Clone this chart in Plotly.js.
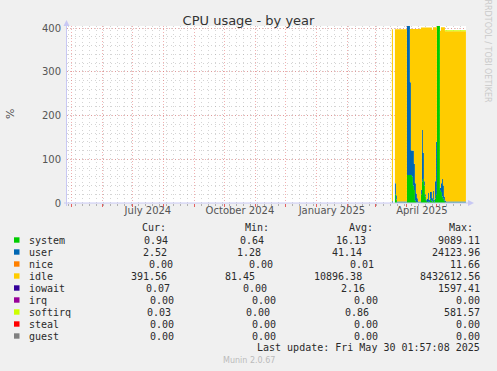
<!DOCTYPE html>
<html><head><meta charset="utf-8">
<script src="https://cdn.plot.ly/plotly-3.0.1.min.js"></script>
<style>html,body{margin:0;padding:0;background:#f0f0f0;}</style>
</head><body><div id="chart" style="width:497px;height:371px;"></div>
<script>
// ---- data (daily) ----
const dates = [
 '2025-03-17','2025-03-18','2025-03-19','2025-03-20','2025-03-21','2025-03-22','2025-03-23','2025-03-24','2025-03-25','2025-03-26','2025-03-27','2025-03-28','2025-03-29','2025-03-30','2025-03-31',
 '2025-04-01','2025-04-02','2025-04-03','2025-04-04','2025-04-05','2025-04-06','2025-04-07','2025-04-08','2025-04-09','2025-04-10','2025-04-11','2025-04-12','2025-04-13','2025-04-14','2025-04-15',
 '2025-04-16','2025-04-17','2025-04-18','2025-04-19','2025-04-20','2025-04-21','2025-04-22','2025-04-23','2025-04-24','2025-04-25','2025-04-26','2025-04-27','2025-04-28','2025-04-29','2025-04-30',
 '2025-05-01','2025-05-02','2025-05-03','2025-05-04','2025-05-05','2025-05-06','2025-05-07','2025-05-08','2025-05-09','2025-05-10','2025-05-11','2025-05-12','2025-05-13','2025-05-14','2025-05-15',
 '2025-05-16','2025-05-17','2025-05-18','2025-05-19','2025-05-20','2025-05-21','2025-05-22','2025-05-23','2025-05-24','2025-05-25','2025-05-26','2025-05-27','2025-05-28','2025-05-29','2025-05-30'
];
const system = [
 1,0,0,20,8,1,1,1,1,1,1,1,1,1,1,
 64,64,64,64,64,60,40,30,5,2,1,1,1,1,20,
 50,55,40,15,5,2,3,2,10,5,3,8,3,10,20,
 9089.11,5000,2000,30,25,15,10,5,2,1,1,1,1,1,1,
 1,1,1,1,1,1,1,1,1,1,1,1,1,1,0.94
];
const user = [
 3,0,0,25,10,2.5,2.5,2.5,2.5,2.5,2.5,2.5,2.5,2.5,2.5,
 24123.96,8000,3000,212,56,60,80,60,40,20,10,2.5,2.5,2.5,10,
 117,60,10,5,3,8,20,5,15,20,8,20,5,40,120,
 5,5,5,5,20,40,30,10,4,2.5,2.5,2.5,2.5,2.5,2.5,
 2.5,2.5,2.5,2.5,2.5,2.5,2.5,2.5,2.5,2.5,2.5,2.5,2.5,2.5,2.52
];
const idle = [
 393,0,0,352,379,393.5,393.5,393.5,393.5,393.5,393.5,393.5,393.5,393.5,393.5,
 390,390,390,122,278,278,278,308,353,376,387,394.5,394.5,394.5,371,
 234,286,351,381,393,391,378,394,376,376,385,374,394,352,262,
 390,390,390,359,357,347,362,387,386.5,389,389,389,389,389,389,
 389,389,389,389,389,389,389,389,389,389,389,389,389,389,391.56
];
const softirq = [
 0,0,0,0,0,0,0,0,0,0,0,0,0,0,0,
 0,0,0,0,0,0,0,0,0,0,0,0,0,0,0,
 0,0,0,0,0,0,0,0,0,0,0,0,0,0,0,
 0,0,0,0,0,0,0,0,2.5,2.5,2.5,2.5,2.5,2.5,2.5,
 2.5,2.5,2.5,2.5,2.5,2.5,2.5,2.5,2.5,2.5,2.5,2.5,2.5,2.5,0.03
];

const monthTickVals = ['2024-07-16','2024-10-16','2025-01-16','2025-04-16'];
const monthTickText = ['July 2024','October 2024','January 2025','April 2025'];
const yTickVals = [0,100,200,300,400];

const legendNames  = ['system','user','nice','idle','iowait','irq','softirq','steal','guest'];
const legendColors = ['#00CC00','#0066B3','#FF8000','#FFCC00','#330099','#990099','#CCFF00','#FF0000','#808080'];
const curVals = ['0.94','2.52','0.00','391.56','0.07','0.00','0.03','0.00','0.00'];
const minVals = ['0.64','1.28','0.00','81.45','0.00','0.00','0.00','0.00','0.00'];
const avgVals = ['16.13','41.14','0.01','10896.38','2.16','0.00','0.86','0.00','0.00'];
const maxVals = ['9089.11','24123.96','11.66','8432612.56','1597.41','0.00','581.57','0.00','0.00'];
const headers = ['Cur:','Min:','Avg:','Max:'];

// ---- geometry helpers ----
const W=497,H=371,L=67,R=31,T=26,B=168;
const PW=W-L-R, PH=H-T-B;
const px=(x)=>(x-L)/PW;
const py=(y)=>(H-B-y)/PH;

function area(name,y,color){
  return {type:'scatter',mode:'lines',x:dates,y:y,name:name,stackgroup:'one',
    line:{width:0,shape:'hv'},fillcolor:color,hoverinfo:'skip',showlegend:false};
}
const traces=[
  area('system',system,'#00CC00'),
  area('user',user,'#0066B3'),
  area('idle',idle,'#FFCC00'),
  area('softirq',softirq,'#CCFF00'),
  {type:'scatter',x:[],y:[],xaxis:'x2',yaxis:'y',showlegend:false}
];

const mono='DejaVu Sans Mono';
const txt='#2a2a2a';
const ann=[];
const shapes=[];
// header
const headerX=[140,243,347,447];
headers.forEach((h,i)=>ann.push({xref:'paper',yref:'paper',x:px(headerX[i]),y:py(227.5),text:h,showarrow:false,xanchor:'left',yanchor:'middle',font:{family:mono,size:10,color:txt}}));
// legend rows (rrdtool-like justified layout)
const cw=5.96, left=26.7, right=482;
legendNames.forEach((n,i)=>{
  const yc=240+i*12;
  shapes.push({type:'rect',xref:'paper',yref:'paper',x0:px(14),x1:px(19.5),y0:py(yc+2.7),y1:py(yc-2.7),fillcolor:legendColors[i],line:{width:0},layer:'above'});
  ann.push({xref:'paper',yref:'paper',x:px(left),y:py(yc),text:n,showarrow:false,xanchor:'left',yanchor:'middle',font:{family:mono,size:10,color:txt}});
  const vals=[curVals[i],minVals[i],avgVals[i],maxVals[i]];
  const Lw=8*cw;
  const sum=vals.reduce((a,v)=>a+v.length*cw,0);
  const gap=(right-left-Lw-sum)/4;
  let pos=left+Lw;
  vals.forEach(v=>{
    pos+=gap+v.length*cw;
    ann.push({xref:'paper',yref:'paper',x:px(pos),y:py(yc),text:v,showarrow:false,xanchor:'right',yanchor:'middle',font:{family:mono,size:10,color:txt}});
  });
});
ann.push({xref:'paper',yref:'paper',x:px(482),y:py(347.7),text:'Last update: Fri May 30 01:57:08 2025',showarrow:false,xanchor:'right',yanchor:'middle',font:{family:mono,size:10,color:txt}});
ann.push({xref:'paper',yref:'paper',x:px(249),y:py(360),text:'Munin 2.0.67',showarrow:false,xanchor:'center',yanchor:'middle',font:{family:'DejaVu Sans',size:8,color:'#bbbbbb'}});
ann.push({xref:'paper',yref:'paper',x:px(487.5),y:py(51),text:'RRDTOOL / TOBI OETIKER',showarrow:false,textangle:90,xanchor:'center',yanchor:'middle',font:{family:'DejaVu Sans',size:8,color:'#cacaca'}});
ann.push({xref:'paper',yref:'paper',x:px(10),y:py(114),text:'%',showarrow:false,textangle:-90,xanchor:'center',yanchor:'middle',font:{family:'DejaVu Sans',size:11,color:'#555'}});

// axis lines with arrows
const axc='#c8c8f4';
shapes.push({type:'line',xref:'paper',yref:'paper',x0:px(66.5),x1:px(66.5),y0:py(206),y1:py(24),line:{color:axc,width:1},layer:'above'});
shapes.push({type:'line',xref:'paper',yref:'paper',x0:px(64),x1:px(469),y0:py(203),y1:py(203),line:{color:axc,width:1},layer:'above'});
shapes.push({type:'path',xref:'paper',yref:'paper',path:`M ${px(63.5)} ${py(26)} L ${px(69.5)} ${py(26)} L ${px(66.5)} ${py(20)} Z`,fillcolor:axc,line:{width:0},layer:'above'});
shapes.push({type:'path',xref:'paper',yref:'paper',path:`M ${px(468)} ${py(200)} L ${px(468)} ${py(206)} L ${px(474)} ${py(203)} Z`,fillcolor:axc,line:{width:0},layer:'above'});

const majorGrid='rgba(225,100,100,0.5)';
const minorGrid='rgba(160,160,160,0.45)';
const xr=['2024-04-26 01:57:08','2025-05-30 01:57:08'];
const layout={
  width:W,height:H,
  margin:{l:L,r:R,t:T,b:B,pad:0},
  paper_bgcolor:'#f0f0f0',plot_bgcolor:'#ffffff',
  showlegend:false,
  title:{text:'CPU usage - by year',x:0.5,xanchor:'center',y:1-20/H,yanchor:'middle',yref:'container',
         font:{family:'DejaVu Sans',size:13,color:'#333'}},
  xaxis:{type:'date',range:xr,tickmode:'array',tickvals:monthTickVals,ticktext:monthTickText,
         showgrid:false,zeroline:false,showline:false,ticks:'',
         tickfont:{family:'DejaVu Sans',size:10,color:'#555'}},
  xaxis2:{type:'date',range:xr,overlaying:'x',anchor:'y',side:'bottom',showticklabels:false,
          tick0:'2024-05-01',dtick:'M1',showgrid:true,gridcolor:majorGrid,griddash:'1px,2px',gridwidth:1,
          ticks:'outside',ticklen:3,tickcolor:'rgba(225,60,60,0.8)',showline:false,zeroline:false,
          minor:{tick0:'2024-05-05',dtick:604800000,showgrid:true,gridcolor:minorGrid,griddash:'1px,3px',
                 ticks:'outside',ticklen:2,tickcolor:'rgba(150,150,150,0.7)'}},
  yaxis:{range:[0,PH/0.4375],tickmode:'array',tickvals:yTickVals,showgrid:true,gridcolor:majorGrid,griddash:'1px,2px',
         zeroline:false,showline:false,ticks:'outside',ticklen:3,tickcolor:'rgba(0,0,0,0)',
         tickfont:{family:'DejaVu Sans',size:10,color:'#555'},
         minor:{dtick:20,tick0:0,showgrid:true,gridcolor:minorGrid,griddash:'1px,3px'}},
  annotations:ann,shapes:shapes
};
Plotly.newPlot('chart',traces,layout,{staticPlot:true,displayModeBar:false});
</script></body></html>
